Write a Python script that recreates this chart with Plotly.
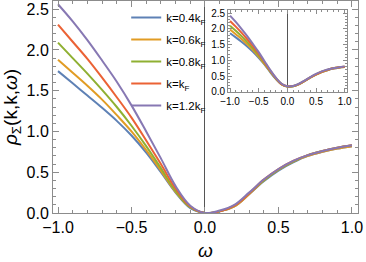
import plotly.graph_objects as go

omega = [-1.0, -0.9, -0.8, -0.7, -0.6, -0.5, -0.4, -0.3, -0.2, -0.1, 0.0,
         0.1, 0.2, 0.3, 0.4, 0.5, 0.6, 0.7, 0.8, 0.9, 1.0]

labels = ["k=0.4k<sub>F</sub>", "k=0.6k<sub>F</sub>", "k=0.8k<sub>F</sub>",
          "k=k<sub>F</sub>", "k=1.2k<sub>F</sub>"]
colors = ["#5E81B5", "#E19C24", "#8FB032", "#EB6235", "#8778B3"]

# main panel
rho_04 = [1.74, 1.59, 1.44, 1.29, 1.13, 0.95, 0.74, 0.50, 0.25, 0.06, 0.0,
          0.02, 0.08, 0.23, 0.39, 0.52, 0.62, 0.70, 0.75, 0.79, 0.82]
rho_06 = [1.88, 1.72, 1.56, 1.39, 1.20, 1.00, 0.77, 0.52, 0.26, 0.07, 0.0,
          0.02, 0.08, 0.23, 0.40, 0.53, 0.63, 0.70, 0.75, 0.79, 0.82]
rho_08 = [2.09, 1.90, 1.71, 1.51, 1.30, 1.07, 0.82, 0.55, 0.27, 0.07, 0.0,
          0.02, 0.09, 0.24, 0.40, 0.53, 0.63, 0.71, 0.76, 0.80, 0.83]
rho_10 = [2.31, 2.10, 1.89, 1.66, 1.42, 1.17, 0.89, 0.60, 0.30, 0.08, 0.0,
          0.02, 0.09, 0.24, 0.41, 0.54, 0.64, 0.71, 0.76, 0.80, 0.83]
rho_12 = [2.56, 2.35, 2.12, 1.87, 1.61, 1.32, 1.00, 0.67, 0.33, 0.09, 0.0,
          0.03, 0.10, 0.25, 0.41, 0.54, 0.64, 0.71, 0.76, 0.80, 0.83]

# inset panel
ins_04 = [1.86, 1.73, 1.59, 1.44, 1.27, 1.08, 0.87, 0.63, 0.41, 0.24, 0.17,
          0.18, 0.24, 0.34, 0.45, 0.55, 0.63, 0.69, 0.74, 0.77, 0.79]
ins_06 = [1.98, 1.83, 1.68, 1.51, 1.33, 1.12, 0.89, 0.65, 0.42, 0.24, 0.17,
          0.18, 0.24, 0.34, 0.45, 0.55, 0.63, 0.69, 0.74, 0.77, 0.79]
ins_08 = [2.10, 1.94, 1.77, 1.58, 1.38, 1.16, 0.92, 0.66, 0.43, 0.25, 0.17,
          0.18, 0.25, 0.35, 0.46, 0.56, 0.64, 0.70, 0.75, 0.78, 0.80]
ins_10 = [2.25, 2.07, 1.88, 1.67, 1.45, 1.21, 0.95, 0.68, 0.44, 0.25, 0.18,
          0.19, 0.25, 0.35, 0.46, 0.56, 0.64, 0.70, 0.75, 0.78, 0.80]
ins_12 = [2.42, 2.22, 2.00, 1.77, 1.52, 1.26, 0.98, 0.70, 0.45, 0.26, 0.18,
          0.19, 0.26, 0.36, 0.47, 0.57, 0.65, 0.71, 0.75, 0.78, 0.81]

main_series = [rho_04, rho_06, rho_08, rho_10, rho_12]
inset_series = [ins_04, ins_06, ins_08, ins_10, ins_12]

fig = go.Figure()
for i, (lab, col, ys) in enumerate(zip(labels, colors, main_series)):
    fig.add_trace(go.Scatter(x=omega, y=ys, mode="lines", name=lab,
                             line=dict(color=col, width=2, shape="spline", smoothing=1.0),
                             legendgroup=str(i), xaxis="x", yaxis="y"))
for i, (lab, col, ys) in enumerate(zip(labels, colors, inset_series)):
    fig.add_trace(go.Scatter(x=omega, y=ys, mode="lines", name=lab,
                             line=dict(color=col, width=2, shape="spline", smoothing=1.0),
                             showlegend=False, xaxis="x2", yaxis="y2"))

frame = "#8c8c8c"
font = "Liberation Sans, Arial, sans-serif"

common = dict(showline=True, mirror="ticks", linecolor=frame, linewidth=1,
              ticks="inside", tickcolor=frame, showgrid=False, automargin=False)

fig.update_layout(
    width=366, height=262,
    margin=dict(l=53, r=8, t=1, b=49, autoexpand=False),
    paper_bgcolor="white", plot_bgcolor="white",
    font=dict(family=font, size=16, color="black"),
    showlegend=True,
    legend=dict(x=0.24, y=0.99, xanchor="left", yanchor="top",
                bgcolor="rgba(0,0,0,0)", font=dict(size=11.5),
                tracegroupgap=3, itemwidth=30),
    xaxis=dict(range=[-1.034, 1.041], tickvals=[-1, -0.5, 0, 0.5, 1],
               tickformat=".1f", ticklen=6, tickfont=dict(color="black", size=16),
               minor=dict(ticks="inside", dtick=0.1, ticklen=3, tickcolor=frame),
               zeroline=True, zerolinecolor="#555555", zerolinewidth=1,
               title=dict(text="<i>ω</i>", standoff=8), **common),
    yaxis=dict(range=[0, 2.6], dtick=0.5, tickformat=".1f", ticklen=6,
               tickfont=dict(color="black", size=16),
               minor=dict(ticks="inside", dtick=0.1, ticklen=3, tickcolor=frame),
               zeroline=False,
               title=dict(text="<i>ρ</i><sub>Σ</sub>(k,k,<i>ω</i>)", standoff=6),
               **common),
    xaxis2=dict(domain=[0.574, 0.964], anchor="y2", range=[-1.034, 1.041],
                tickvals=[-1, -0.5, 0, 0.5, 1], tickformat=".1f", ticklen=4,
                minor=dict(ticks="inside", dtick=0.1, ticklen=2, tickcolor=frame),
                zeroline=True, zerolinecolor="#555555", zerolinewidth=1,
                tickfont=dict(size=10, color="black"), **common),
    yaxis2=dict(domain=[0.571, 0.958], anchor="x2", range=[0, 2.6], dtick=0.5,
                tickformat=".1f", ticklen=4,
                minor=dict(ticks="inside", dtick=0.1, ticklen=2, tickcolor=frame),
                zeroline=False, tickfont=dict(size=10, color="black"), **common),
)

fig.write_html("out.html", config={"displayModeBar": False},
               post_script="document.body.style.margin='0';")
